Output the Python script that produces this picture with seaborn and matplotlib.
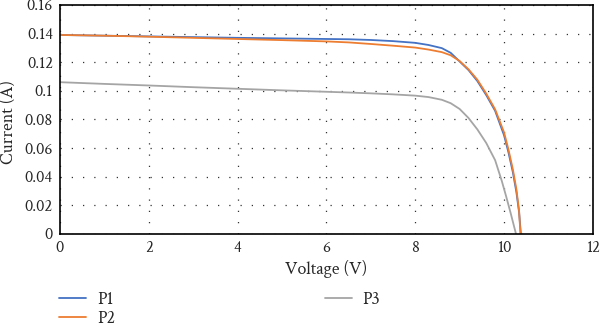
import matplotlib
matplotlib.use("Agg")
import matplotlib.pyplot as plt
import seaborn as sns
import pandas as pd

# Data
v_p1 = [0, 1, 2, 3, 4, 5, 6, 6.5, 7, 7.5, 8, 8.3, 8.6, 8.8, 9.0, 9.2, 9.4, 9.6, 9.8, 10.0, 10.1, 10.2, 10.28, 10.34, 10.38]
i_p1 = [0.139, 0.1385, 0.138, 0.1375, 0.137, 0.1366, 0.1362, 0.136, 0.1355, 0.1347, 0.1335, 0.132, 0.1298, 0.1265, 0.1205, 0.1145, 0.1068, 0.097, 0.086, 0.069, 0.057, 0.043, 0.029, 0.015, 0.0]
v_p2 = [0, 1, 2, 3, 4, 5, 6, 6.5, 7, 7.5, 8, 8.3, 8.6, 8.8, 9.0, 9.2, 9.4, 9.6, 9.8, 10.0, 10.1, 10.2, 10.28, 10.34, 10.37]
i_p2 = [0.139, 0.1385, 0.1378, 0.137, 0.1362, 0.1354, 0.1345, 0.1338, 0.1327, 0.1315, 0.1302, 0.1288, 0.127, 0.1248, 0.1208, 0.115, 0.1077, 0.098, 0.087, 0.071, 0.059, 0.045, 0.031, 0.016, 0.0]
v_p3 = [0, 1, 2, 3, 4, 5, 6, 6.5, 7, 7.5, 8, 8.3, 8.6, 8.8, 9.0, 9.2, 9.4, 9.6, 9.8, 9.95, 10.05, 10.15, 10.22, 10.27]
i_p3 = [0.106, 0.1048, 0.1037, 0.1025, 0.1014, 0.1003, 0.0993, 0.0988, 0.0982, 0.0975, 0.0966, 0.0956, 0.0937, 0.0913, 0.0873, 0.081, 0.073, 0.0635, 0.0515, 0.037, 0.026, 0.0145, 0.006, 0.0]
y_ticks = [0, 0.02, 0.04, 0.06, 0.08, 0.1, 0.12, 0.14, 0.16]
y_labels = ["0", "0.02", "0.04", "0.06", "0.08", "0.1", "0.12", "0.14", "0.16"]
x_ticks = [0, 2, 4, 6, 8, 10, 12]

df = pd.concat([
    pd.DataFrame({"V": v_p1, "I": i_p1, "S": "P1"}),
    pd.DataFrame({"V": v_p2, "I": i_p2, "S": "P2"}),
    pd.DataFrame({"V": v_p3, "I": i_p3, "S": "P3"}),
])

sns.set_style("white")
FONT = ["Crimson Text", "Liberation Serif", "DejaVu Serif"]
plt.rcParams["font.family"] = FONT

fig = plt.figure(figsize=(6, 3.28), dpi=100)
ax = fig.add_axes([0.1, 0.287, 0.888, 0.698])

palette = {"P1": "#4472C4", "P2": "#ED7D31", "P3": "#A5A5A5"}
sns.lineplot(data=df, x="V", y="I", hue="S", palette=palette, sort=False,
             estimator=None, linewidth=1.3, ax=ax)

ax.set_xlim(0, 12)
ax.set_ylim(0, 0.16)
ax.set_xticks(x_ticks)
ax.set_xticklabels([str(t) for t in x_ticks], fontfamily=FONT)
ax.set_yticks(y_ticks)
ax.set_yticklabels(y_labels, fontfamily=FONT)
ax.tick_params(axis="both", labelsize=12, length=0, pad=5)
ax.grid(True, color="#333333", linestyle=(0, (1, 8)), linewidth=0.9)
for s in ax.spines.values():
    s.set_visible(True)
    s.set_color("black")
    s.set_linewidth(1.2)

ax.set_xlabel("Voltage (V)", fontsize=13, labelpad=3, fontfamily=FONT)
ax.set_ylabel("Current (A)", fontsize=13, fontfamily=FONT)
ax.yaxis.set_label_coords(-0.081, 0.49)

handles, labels = ax.get_legend_handles_labels()
ax.legend(handles, labels, loc="upper left", bbox_to_anchor=(-0.015, -0.22),
          ncol=2, frameon=False, prop={"family": FONT, "size": 13},
          handlelength=1.5, handletextpad=0.6,
          columnspacing=11.6, labelspacing=0.12, borderaxespad=0)

fig.savefig("out.png", dpi=100)
